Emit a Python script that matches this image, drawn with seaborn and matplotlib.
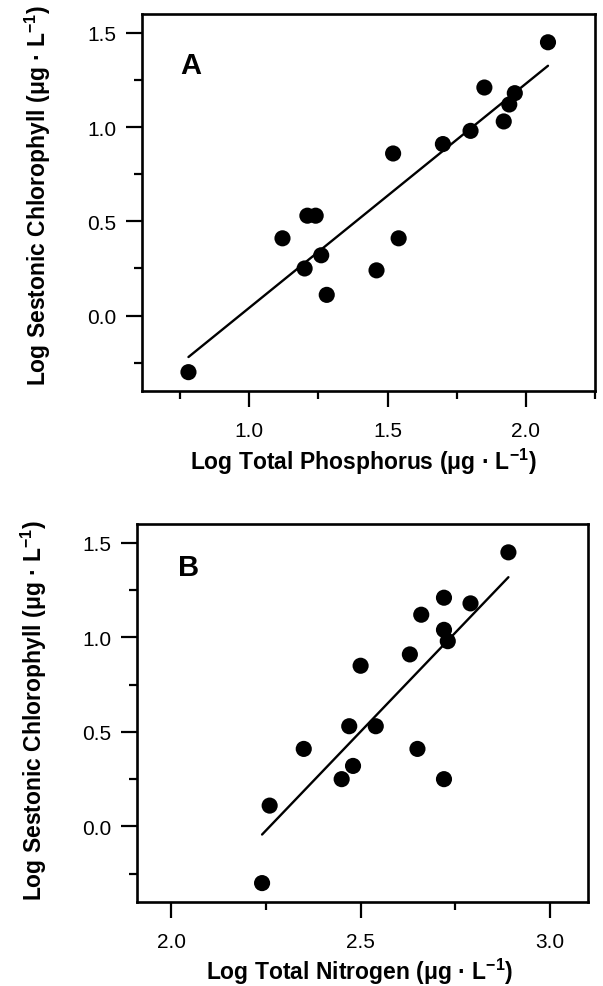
import matplotlib
matplotlib.use("Agg")
import matplotlib.pyplot as plt
import seaborn as sns
import pandas as pd
from matplotlib.ticker import FixedLocator, FormatStrFormatter

# ---- data ----
tp_log = [0.78, 1.12, 1.21, 1.24, 1.20, 1.26, 1.28, 1.46, 1.52, 1.54,
          1.70, 1.80, 1.85, 1.92, 1.94, 1.96, 2.08]
chl_a = [-0.30, 0.41, 0.53, 0.53, 0.25, 0.32, 0.11, 0.24, 0.86, 0.41,
         0.91, 0.98, 1.21, 1.03, 1.12, 1.18, 1.45]

tn_log = [2.24, 2.26, 2.35, 2.45, 2.47, 2.48, 2.50, 2.54, 2.63, 2.65,
          2.66, 2.72, 2.72, 2.73, 2.72, 2.79, 2.89]
chl_b = [-0.30, 0.11, 0.41, 0.25, 0.53, 0.32, 0.85, 0.53, 0.91, 0.41,
         1.12, 1.21, 1.04, 0.98, 0.25, 1.18, 1.45]

y_major = [0.0, 0.5, 1.0, 1.5]
y_minor = [-0.25, 0.25, 0.75, 1.25]
xa_major = [1.0, 1.5, 2.0]
xa_minor = [0.75, 1.25, 1.75, 2.25]
xb_major = [2.0, 2.5, 3.0]
xb_minor = [2.25, 2.75]

ylabel = "Log Sestonic Chlorophyll (\u03bcg \u00b7 L$^{\\mathbf{-1}}$)"
xlabel_a = "Log Total Phosphorus (\u03bcg \u00b7 L$^{\\mathbf{-1}}$)"
xlabel_b = "Log Total Nitrogen (\u03bcg \u00b7 L$^{\\mathbf{-1}}$)"

df_a = pd.DataFrame({"x": tp_log, "y": chl_a})
df_b = pd.DataFrame({"x": tn_log, "y": chl_b})

sns.set_theme(style="ticks")
plt.rcParams["font.family"] = ["Liberation Sans", "DejaVu Sans"]
plt.rcParams["mathtext.fontset"] = "custom"
plt.rcParams["mathtext.rm"] = "Liberation Sans"
plt.rcParams["mathtext.bf"] = "Liberation Sans:bold"
plt.rcParams["text.color"] = "black"
plt.rcParams["axes.labelcolor"] = "black"
plt.rcParams["xtick.color"] = "black"
plt.rcParams["ytick.color"] = "black"

fig = plt.figure(figsize=(6.03, 9.87), dpi=100)
axA = fig.add_axes([142 / 603, 1 - 392 / 987, 453 / 603, 377 / 987])
axB = fig.add_axes([137 / 603, 1 - 903 / 987, 451 / 603, 378 / 987])


def style(ax, df, xlim, xmaj, xmin, xlabel, letter, letter_pos, xl_coords, yl_coords):
    sns.regplot(data=df, x="x", y="y", ax=ax, ci=None, color="black",
                scatter_kws={"s": 135, "edgecolor": "none", "alpha": 1},
                line_kws={"lw": 1.7})
    ax.set_xlim(*xlim)
    ax.set_ylim(-0.4, 1.6)
    ax.xaxis.set_major_locator(FixedLocator(xmaj))
    ax.xaxis.set_minor_locator(FixedLocator(xmin))
    ax.yaxis.set_major_locator(FixedLocator(y_major))
    ax.yaxis.set_minor_locator(FixedLocator(y_minor))
    ax.xaxis.set_major_formatter(FormatStrFormatter("%.1f"))
    ax.yaxis.set_major_formatter(FormatStrFormatter("%.1f"))
    ax.tick_params(which="both", bottom=True, left=True, top=False, right=False)
    ax.tick_params(which="major", direction="out", length=11.5, width=1.6,
                   labelsize=15, color="black", labelcolor="black")
    ax.tick_params(axis="x", which="major", pad=10)
    ax.tick_params(axis="y", which="major", pad=7)
    ax.tick_params(which="minor", direction="out", length=6, width=1.6, color="black")
    for sp in ax.spines.values():
        sp.set_visible(True)
        sp.set_linewidth(1.9)
        sp.set_color("black")
    ax.set_xlabel(xlabel, fontsize=16.5, fontweight="bold", color="black")
    ax.set_ylabel(ylabel, fontsize=16.5, fontweight="bold", color="black")
    ax.xaxis.set_label_coords(*xl_coords)
    ax.yaxis.set_label_coords(*yl_coords)
    ax.text(letter_pos[0], letter_pos[1], letter, transform=ax.transAxes,
            fontsize=21, fontweight="bold", ha="left", va="center", color="black")


style(axA, df_a, (0.612, 2.25), xa_major, xa_minor, xlabel_a, "A",
      (0.084, 0.866), (0.488, -0.145), (-0.196, 0.52))
style(axB, df_b, (1.91, 3.10), xb_major, xb_minor, xlabel_b, "B",
      (0.091, 0.885), (0.494, -0.142), (-0.196, 0.51))

fig.savefig("out.png", dpi=100)
